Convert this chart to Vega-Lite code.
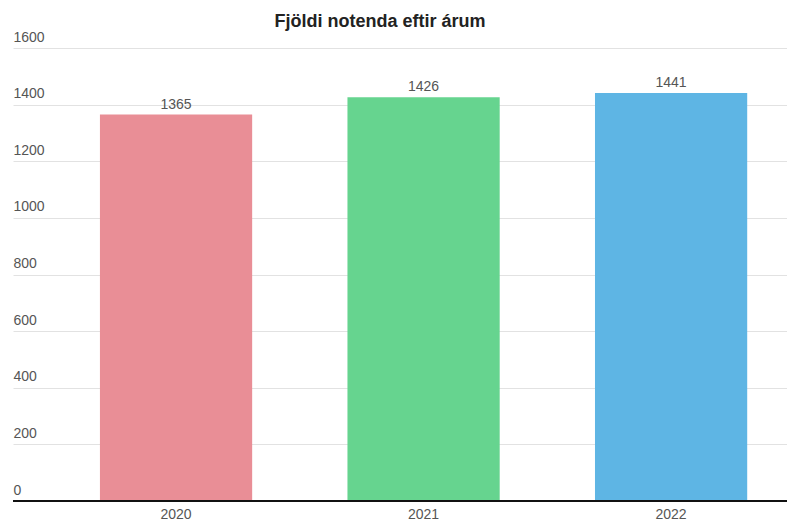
{
  "$schema": "https://vega.github.io/schema/vega-lite/v6.json",
  "autosize": {"type": "none"},
  "width": 774,
  "height": 453,
  "padding": {"left": 13, "top": 48, "right": 0, "bottom": 22},
  "background": "white",
  "title": {
    "text": "Fjöldi notenda eftir árum",
    "font": "Liberation Sans",
    "fontSize": 18,
    "fontWeight": "bold",
    "color": "#222222",
    "anchor": "middle",
    "dx": -20,
    "dy": 19,
    "offset": 4,
    "baseline": "alphabetic"
  },
  "config": {
    "view": {"stroke": null},
    "font": "Liberation Sans"
  },
  "data": {
    "values": [
      {"year": "2020", "users": 1365},
      {"year": "2021", "users": 1426},
      {"year": "2022", "users": 1441}
    ]
  },
  "encoding": {
    "x": {
      "field": "year",
      "type": "nominal",
      "sort": null,
      "scale": {"paddingInner": 0.385, "paddingOuter": 0.256, "align": 0.686},
      "axis": {
        "title": null,
        "labelAngle": 0,
        "labelFont": "Liberation Sans",
        "labelFontSize": 14,
        "labelColor": "#555555",
        "ticks": false,
        "tickSize": 0,
        "labelPadding": 6,
        "domain": false,
        "grid": false
      }
    },
    "y": {
      "field": "users",
      "type": "quantitative",
      "scale": {"domain": [0, 1600], "nice": false},
      "axis": {
        "title": null,
        "values": [0, 200, 400, 600, 800, 1000, 1200, 1400, 1600],
        "format": "d",
        "labelAlign": "left",
        "labelBaseline": "alphabetic",
        "labelPadding": 0,
        "labelOffset": -7,
        "ticks": false,
        "tickSize": 0,
        "domain": false,
        "grid": true,
        "gridColor": "#e2e2e2",
        "gridWidth": 1,
        "labelFont": "Liberation Sans",
        "labelFontSize": 14,
        "labelColor": "#555555"
      }
    }
  },
  "layer": [
    {
      "mark": {"type": "bar"},
      "encoding": {
        "color": {
          "field": "year",
          "type": "nominal",
          "scale": {"domain": ["2020", "2021", "2022"], "range": ["#E98E96", "#66D48F", "#5EB5E4"]},
          "legend": null
        }
      }
    },
    {
      "mark": {"type": "text", "baseline": "alphabetic", "dy": -6, "font": "Liberation Sans", "fontSize": 14, "color": "#555555"},
      "encoding": {
        "text": {"field": "users", "type": "quantitative"}
      }
    },
    {
      "mark": {"type": "rule", "color": "#111111", "strokeWidth": 2},
      "encoding": {
        "y": {"datum": 0, "type": "quantitative"},
        "x": {"value": 0},
        "x2": {"value": 774}
      }
    }
  ]
}
